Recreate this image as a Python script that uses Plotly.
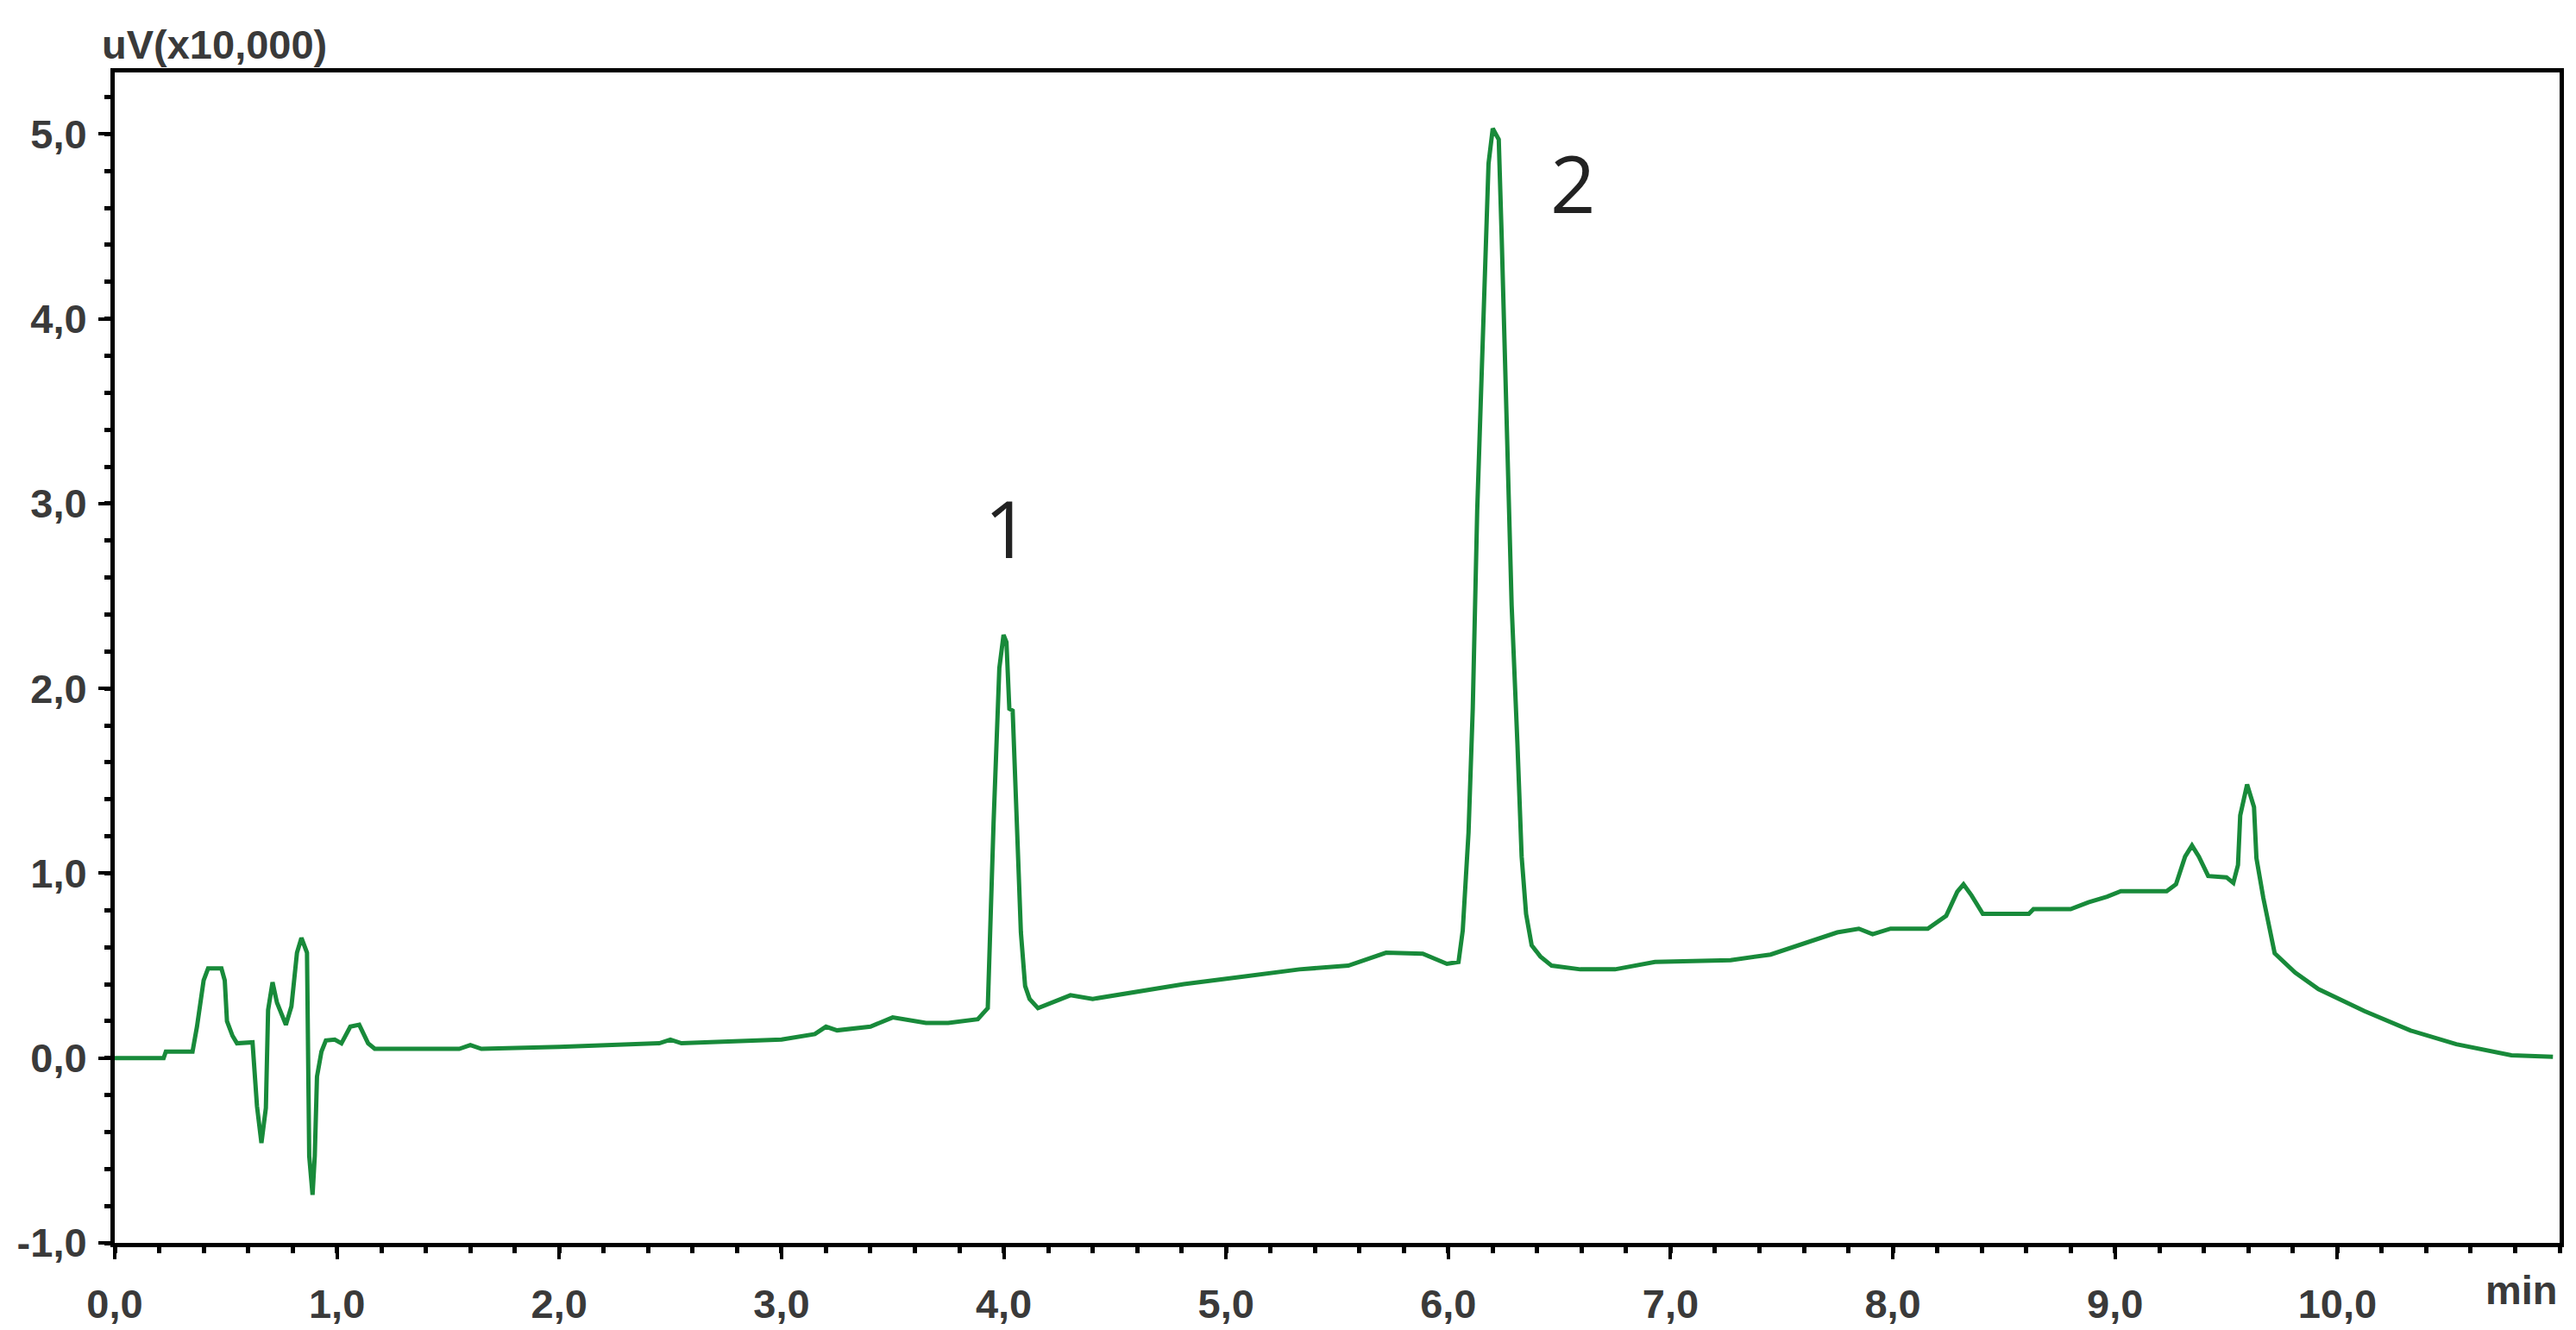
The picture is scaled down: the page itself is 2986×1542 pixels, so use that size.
import plotly.graph_objects as go

# Retention time (min) and detector signal (uV x 10,000)
time_min = [
    0.00, 0.22, 0.23, 0.35, 0.37, 0.40, 0.42, 0.48, 0.495, 0.505, 0.53, 0.55, 0.62,
    0.64, 0.66, 0.68, 0.69, 0.71, 0.73, 0.77, 0.795, 0.805, 0.82, 0.84, 0.865, 0.875,
    0.89, 0.90, 0.91, 0.93, 0.95, 0.99, 1.02, 1.06, 1.10, 1.14, 1.17, 1.55, 1.60,
    1.65, 2.00, 2.45, 2.50, 2.55, 3.00, 3.15, 3.20, 3.25, 3.40, 3.50, 3.55, 3.65,
    3.75, 3.883, 3.928, 3.935, 3.954, 3.980, 3.999, 4.012, 4.025, 4.04, 4.058, 4.077,
    4.096, 4.116, 4.154, 4.245, 4.30, 4.40, 4.555, 4.81, 5.07, 5.33, 5.55, 5.65, 5.72,
    5.885, 5.93, 5.994, 6.046, 6.065, 6.091, 6.110, 6.130, 6.155, 6.181, 6.200, 6.227,
    6.240, 6.259, 6.285, 6.311, 6.330, 6.350, 6.375, 6.414, 6.465, 6.594, 6.75, 6.93,
    7.27, 7.45, 7.60, 7.75, 7.847, 7.909, 7.99, 8.157, 8.24, 8.29, 8.318, 8.354, 8.405,
    8.612, 8.633, 8.80, 8.88, 8.964, 9.026, 9.232, 9.274, 9.315, 9.346, 9.377, 9.419,
    9.501, 9.532, 9.553, 9.563, 9.594, 9.625, 9.636, 9.667, 9.718, 9.81, 9.915, 10.122,
    10.33, 10.535, 10.783, 10.97,
]
signal = [
    0.00, 0.00, 0.035, 0.035, 0.17, 0.42, 0.485, 0.485, 0.42, 0.20, 0.12, 0.08, 0.085,
    -0.26, -0.46, -0.27, 0.26, 0.41, 0.30, 0.18, 0.28, 0.42, 0.57, 0.65, 0.57, -0.53,
    -0.74, -0.53, -0.10, 0.035, 0.095, 0.10, 0.08, 0.17, 0.18, 0.08, 0.05, 0.05, 0.07,
    0.05, 0.06, 0.08, 0.10, 0.08, 0.10, 0.13, 0.17, 0.15, 0.17, 0.22, 0.21, 0.19,
    0.19, 0.21, 0.27, 0.57, 1.27, 2.11, 2.29, 2.25, 1.89, 1.88, 1.31, 0.68,
    0.39, 0.32, 0.27, 0.31, 0.34, 0.32, 0.35, 0.40, 0.44, 0.48, 0.50, 0.54, 0.57,
    0.565, 0.54, 0.51, 0.52, 0.69, 1.22, 1.89, 2.96, 3.97, 4.84, 5.03, 4.97,
    4.45, 3.59, 2.45, 1.70, 1.09, 0.78, 0.61, 0.55, 0.50, 0.48, 0.48, 0.52,
    0.53, 0.56, 0.62, 0.68, 0.70, 0.67, 0.70, 0.70, 0.77, 0.90, 0.94, 0.88, 0.78,
    0.78, 0.806, 0.806, 0.843, 0.873, 0.903, 0.903, 0.94, 1.09, 1.15, 1.09, 0.985,
    0.978, 0.948, 1.045, 1.313, 1.48, 1.358, 1.082, 0.866, 0.567, 0.463, 0.373, 0.254,
    0.149, 0.075, 0.015, 0.007,
]

x_tickvals = [0, 1, 2, 3, 4, 5, 6, 7, 8, 9, 10]
x_ticktext = ["0,0", "1,0", "2,0", "3,0", "4,0", "5,0", "6,0", "7,0", "8,0", "9,0", "10,0"]
y_tickvals = [-1, 0, 1, 2, 3, 4, 5]
y_ticktext = ["-1,0", "0,0", "1,0", "2,0", "3,0", "4,0", "5,0"]

peak_labels = ["1", "2"]
peak_label_x = [4.017, 6.56]
peak_label_y = [2.87, 4.74]

x_title = "min"
y_title = "uV(x10,000)"

LINE_GREEN = "#188a3a"
TICK_FONT = dict(family="Liberation Sans, Arial, sans-serif", size=47, color="#3a3a3a", weight="bold")

fig = go.Figure()
fig.add_trace(go.Scatter(
    x=time_min, y=signal, mode="lines",
    line=dict(color=LINE_GREEN, width=5),
    showlegend=False, hoverinfo="skip",
))

for lab, lx, ly in zip(peak_labels, peak_label_x, peak_label_y):
    fig.add_annotation(
        x=lx, y=ly, xref="x", yref="y", text=lab, showarrow=False,
        font=dict(family="Open Sans, Noto Sans, sans-serif", size=92, color="#222222"),
        xanchor="center", yanchor="middle",
    )

fig.add_annotation(
    x=1.0, y=-0.04, xref="paper", yref="paper", text=x_title, showarrow=False,
    font=TICK_FONT, xanchor="right", yanchor="middle",
)
fig.add_annotation(
    x=-0.006, y=1.024, xref="paper", yref="paper", text=y_title, showarrow=False,
    font=TICK_FONT, xanchor="left", yanchor="middle",
)

axis_common = dict(
    showline=True, linecolor="black", linewidth=5, mirror=True,
    showgrid=False, zeroline=False,
    ticks="outside", tickcolor="black", tickwidth=4, ticklen=14,
    tickfont=TICK_FONT,
)

fig.update_xaxes(
    range=[0, 11.0], tickvals=x_tickvals, ticktext=x_ticktext,
    minor=dict(dtick=0.2, tick0=0, ticks="outside", ticklen=7, tickwidth=5, tickcolor="black", showgrid=False),
    ticklabelstandoff=12,
    **axis_common,
)
fig.update_yaxes(
    range=[-1.0, 5.333], tickvals=y_tickvals, ticktext=y_ticktext,
    minor=dict(dtick=0.2, tick0=0, ticks="outside", ticklen=7, tickwidth=5, tickcolor="black", showgrid=False),
    ticklabelstandoff=4,
    **axis_common,
)

fig.update_layout(
    width=2986, height=1542,
    margin=dict(l=124, r=27, t=76, b=87, pad=0),
    plot_bgcolor="white", paper_bgcolor="white",
)

fig.write_html("out.html")
